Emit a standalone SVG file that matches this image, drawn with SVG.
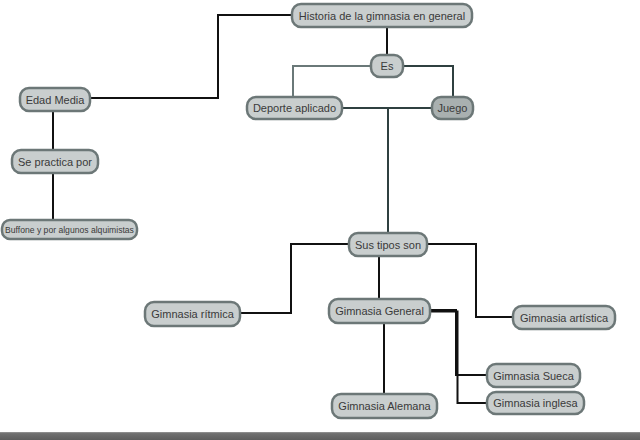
<svg xmlns="http://www.w3.org/2000/svg" width="640" height="440" viewBox="0 0 640 440">
<defs>
<linearGradient id="bar" x1="0" y1="0" x2="0" y2="1">
<stop offset="0" stop-color="#9a9a9a"/>
<stop offset="0.2" stop-color="#707070"/>
<stop offset="1" stop-color="#5e5e5e"/>
</linearGradient>
</defs>
<style>
.n rect{fill:#c9cece;stroke:#6c7777;stroke-width:2.5}
.n text{font-family:"Liberation Sans",Arial,sans-serif;font-size:11px;fill:#3a3a3a;text-anchor:middle;dominant-baseline:central}
.c path{fill:none;stroke:#111;stroke-width:2}
.c path.g{stroke:#6a7878}
.c path.d{stroke:#2f4040}
</style>
<rect width="640" height="440" fill="#fff"/>
<g class="c" id="connectors">
<path d="M292 15 H218 V98 H90"/>
<path d="M387 27 V54"/>
<path class="g" d="M371 66 H293 V97"/>
<path class="d" d="M403 66 H453 V97"/>
<path class="d" d="M342 108 H432"/>
<path class="d" d="M388 108 V233"/>
<path d="M53 112 V150"/>
<path d="M53 173 V220"/>
<path d="M349 244 H291 V313 H240"/>
<path d="M379 256 V299"/>
<path d="M427 244 H476 V317 H513"/>
<path d="M430 310 H456 V375 H487"/>
<path d="M430 311.5 H457.5 V403 H487"/>
<path d="M384 323 V394"/>
</g>
<g class="n" id="historia"><rect x="292" y="4" width="180" height="23" rx="9"/><text x="382" y="15.5">Historia de la gimnasia en general</text></g>
<g class="n" id="es"><rect x="371" y="55" width="32" height="22" rx="9"/><text x="387" y="66">Es</text></g>
<g class="n" id="deporte"><rect x="247" y="97" width="95" height="22" rx="9"/><text x="294.5" y="108">Deporte aplicado</text></g>
<g class="n" id="juego"><rect x="432" y="97" width="41" height="22" rx="9" style="fill:#a9b0b0"/><text x="452.5" y="108">Juego</text></g>
<g class="n" id="edad"><rect x="20" y="88" width="70" height="23" rx="9"/><text x="55" y="99.5">Edad Media</text></g>
<g class="n" id="practica"><rect x="12" y="150" width="86" height="23" rx="9"/><text x="55" y="161.5">Se practica por</text></g>
<g class="n" id="buffone"><rect x="2" y="220" width="135" height="19" rx="8"/><text x="69.5" y="229.5" style="font-size:8.6px">Buffone y por algunos alquimistas</text></g>
<g class="n" id="sus"><rect x="349" y="233" width="78" height="23" rx="9"/><text x="388" y="244.5">Sus tipos son</text></g>
<g class="n" id="ritmica"><rect x="145" y="302" width="95" height="24" rx="9"/><text x="192.5" y="314">Gimnasia rítmica</text></g>
<g class="n" id="general"><rect x="329" y="299" width="101" height="24" rx="9"/><text x="379.5" y="311">Gimnasia General</text></g>
<g class="n" id="artistica"><rect x="513" y="306" width="102" height="23" rx="9"/><text x="564" y="317.5">Gimnasia artística</text></g>
<g class="n" id="sueca"><rect x="487" y="364" width="93" height="23" rx="9"/><text x="533.5" y="375.5">Gimnasia Sueca</text></g>
<g class="n" id="inglesa"><rect x="487" y="392" width="97" height="22" rx="9"/><text x="535.5" y="403">Gimnasia inglesa</text></g>
<g class="n" id="alemana"><rect x="332" y="394" width="105" height="24" rx="9"/><text x="384.5" y="406">Gimnasia Alemana</text></g>
<rect x="0" y="432" width="640" height="8" fill="url(#bar)"/>
</svg>
